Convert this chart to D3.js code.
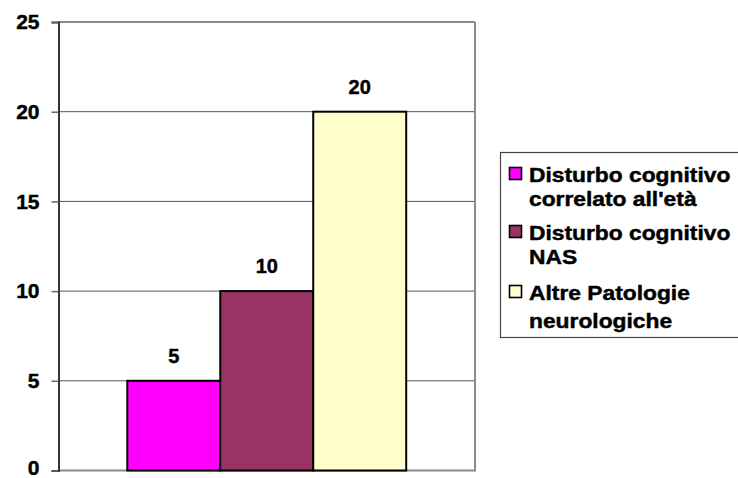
<!DOCTYPE html>
<html>
<head>
<meta charset="utf-8">
<script src="https://cdn.jsdelivr.net/npm/d3@7"></script>
<style>
  html, body { margin: 0; padding: 0; background: #fff; }
  svg { display: block; font-family: "Liberation Sans", Arial, Helvetica, sans-serif; font-weight: bold; }
  text { stroke: #000; stroke-width: 0.45px; paint-order: stroke; }
</style>
</head>
<body>
<svg id="chart" width="738" height="478"></svg>
<script>
const series = ["Disturbo cognitivo correlato all'età", "Disturbo cognitivo NAS", "Altre Patologie neurologiche"];
const legendLines = [["Disturbo cognitivo", "correlato all'età"], ["Disturbo cognitivo", "NAS"], ["Altre Patologie", "neurologiche"]];
const values = [5, 10, 20];
const colors = ["#FF00FF", "#993366", "#FFFFCC"];
const yTicks = [0, 5, 10, 15, 20, 25];

const svg = d3.select("#chart");
const plot = { left: 58.5, right: 475, top: 22, bottom: 470.5 };

const y = d3.scaleLinear().domain([0, 25]).range([plot.bottom, plot.top]);
const x = d3.scaleBand().domain(series).range([plot.left, plot.right]).paddingInner(0).paddingOuter(0.74);

// gridlines
svg.append("g").selectAll("line").data(yTicks.filter(t => t > 0 && t < 25)).join("line")
  .attr("x1", plot.left).attr("x2", plot.right)
  .attr("y1", d => y(d)).attr("y2", d => y(d))
  .attr("stroke", "#555").attr("stroke-width", 1);

// plot frame (top, right, bottom) in gray
svg.append("line").attr("x1", plot.left).attr("x2", plot.right).attr("y1", y(25)).attr("y2", y(25))
  .attr("stroke", "#8a8a8a").attr("stroke-width", 2);
svg.append("line").attr("x1", plot.right).attr("x2", plot.right).attr("y1", y(25)).attr("y2", y(0) + 1)
  .attr("stroke", "#8a8a8a").attr("stroke-width", 2);
svg.append("line").attr("x1", plot.left).attr("x2", plot.right).attr("y1", y(0)).attr("y2", y(0))
  .attr("stroke", "#8a8a8a").attr("stroke-width", 2);

// bars
svg.append("g").selectAll("rect").data(values).join("rect")
  .attr("x", (d, i) => x(series[i]))
  .attr("width", x.bandwidth())
  .attr("y", d => y(d))
  .attr("height", d => y(0) - y(d))
  .attr("fill", (d, i) => colors[i])
  .attr("stroke", "#000").attr("stroke-width", 2);

// value labels
svg.append("g").selectAll("text").data(values).join("text")
  .attr("x", (d, i) => x(series[i]) + x.bandwidth() / 2)
  .attr("y", d => y(d) - 18)
  .attr("text-anchor", "middle")
  .attr("font-size", 20)
  .attr("fill", "#000")
  .text(d => d);

// y axis
const yAxis = d3.axisLeft(y).tickValues(yTicks).tickSize(7).tickPadding(12).tickFormat(d3.format("d"));
const ag = svg.append("g").attr("transform", `translate(${plot.left},0)`).call(yAxis);
ag.select(".domain").attr("stroke", "#333").attr("stroke-width", 2);
ag.selectAll(".tick line").attr("stroke", "#666").attr("stroke-width", 1.5);
ag.selectAll(".tick text").attr("font-size", 21).attr("fill", "#000")
  .attr("font-family", "'Liberation Sans', Arial, sans-serif").attr("font-weight", "bold");
ag.selectAll(".tick").filter(d => d === 0).select("text").attr("dy", "0.2em");

// legend
const lg = svg.append("g");
lg.append("rect").attr("x", 500.5).attr("y", 152.5).attr("width", 260).attr("height", 185)
  .attr("fill", "#fff").attr("stroke", "#444").attr("stroke-width", 1.2);
const itemBaselines = [[182, 206], [240, 264], [300, 328]];
const items = lg.selectAll("g.item").data(series).join("g").attr("class", "item");
items.append("rect")
  .attr("x", 509.5).attr("y", (d, i) => itemBaselines[i][0] - 14.5)
  .attr("width", 12).attr("height", 12)
  .attr("fill", (d, i) => colors[i]).attr("stroke", "#000").attr("stroke-width", 1.6);
items.each(function(d, i) {
  const g = d3.select(this);
  legendLines[i].forEach((line, j) => {
    g.append("text")
      .attr("transform", `translate(529,${itemBaselines[i][j]}) scale(1.14,1)`)
      .attr("font-size", 20)
      .attr("fill", "#000")
      .text(line);
  });
});
</script>
</body>
</html>
